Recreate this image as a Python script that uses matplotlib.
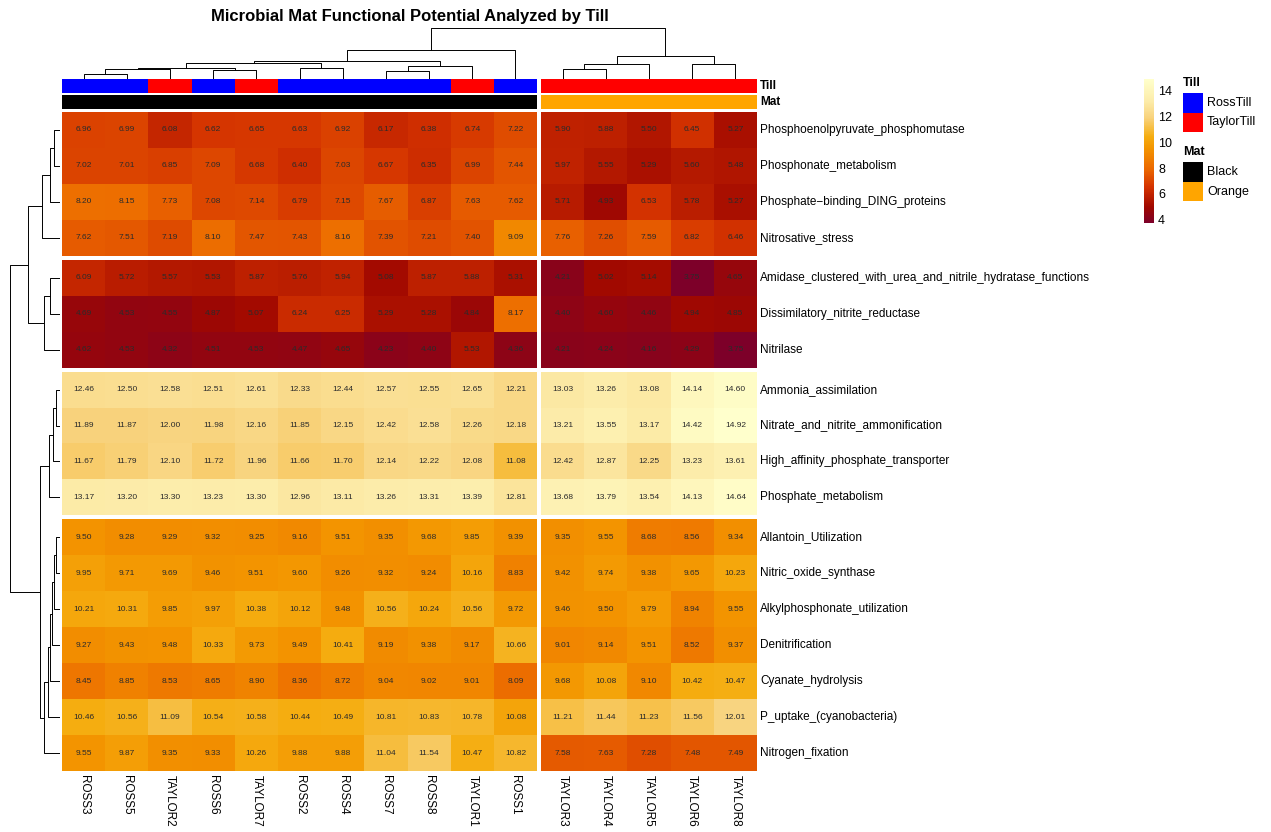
import numpy as np
import matplotlib
matplotlib.use("Agg")
import matplotlib.pyplot as plt
from matplotlib.colors import LinearSegmentedColormap, Normalize
from matplotlib.patches import Rectangle
from matplotlib.cm import ScalarMappable

plt.rcParams['font.family'] = ['Liberation Sans', 'DejaVu Sans']

# samples in clustered order
samples = ["ROSS3", "ROSS5", "TAYLOR2", "ROSS6", "TAYLOR7", "ROSS2", "ROSS4", "ROSS7",
           "ROSS8", "TAYLOR1", "ROSS1", "TAYLOR3", "TAYLOR4", "TAYLOR5", "TAYLOR6", "TAYLOR8"]
till = ["RossTill", "RossTill", "TaylorTill", "RossTill", "TaylorTill", "RossTill", "RossTill",
        "RossTill", "RossTill", "TaylorTill", "RossTill", "TaylorTill", "TaylorTill",
        "TaylorTill", "TaylorTill", "TaylorTill"]
mat = ["Black"] * 11 + ["Orange"] * 5

functions = ["Phosphoenolpyruvate_phosphomutase", "Phosphonate_metabolism",
             "Phosphate\u2212binding_DING_proteins", "Nitrosative_stress",
             "Amidase_clustered_with_urea_and_nitrile_hydratase_functions",
             "Dissimilatory_nitrite_reductase", "Nitrilase", "Ammonia_assimilation",
             "Nitrate_and_nitrite_ammonification", "High_affinity_phosphate_transporter",
             "Phosphate_metabolism", "Allantoin_Utilization", "Nitric_oxide_synthase",
             "Alkylphosphonate_utilization", "Denitrification", "Cyanate_hydrolysis",
             "P_uptake_(cyanobacteria)", "Nitrogen_fixation"]

values = np.array([
    [6.96, 6.99, 6.08, 6.62, 6.65, 6.63, 6.92, 6.17, 6.38, 6.74, 7.22, 5.90, 5.88, 5.50, 6.45, 5.27],
    [7.02, 7.01, 6.85, 7.09, 6.68, 6.40, 7.03, 6.67, 6.35, 6.99, 7.44, 5.97, 5.55, 5.29, 5.60, 5.48],
    [8.20, 8.15, 7.73, 7.08, 7.14, 6.79, 7.15, 7.67, 6.87, 7.63, 7.62, 5.71, 4.93, 6.53, 5.78, 5.27],
    [7.62, 7.51, 7.19, 8.10, 7.47, 7.43, 8.16, 7.39, 7.21, 7.40, 9.09, 7.76, 7.26, 7.59, 6.82, 6.46],
    [6.09, 5.72, 5.57, 5.53, 5.87, 5.76, 5.94, 5.08, 5.87, 5.88, 5.31, 4.21, 5.02, 5.14, 3.75, 4.65],
    [4.69, 4.53, 4.55, 4.87, 5.07, 6.24, 6.25, 5.29, 5.28, 4.84, 8.17, 4.40, 4.60, 4.46, 4.94, 4.85],
    [4.62, 4.53, 4.32, 4.51, 4.53, 4.47, 4.65, 4.23, 4.40, 5.53, 4.36, 4.21, 4.24, 4.16, 4.29, 3.75],
    [12.46, 12.50, 12.58, 12.51, 12.61, 12.33, 12.44, 12.57, 12.55, 12.65, 12.21, 13.03, 13.26, 13.08, 14.14, 14.60],
    [11.89, 11.87, 12.00, 11.98, 12.16, 11.85, 12.15, 12.42, 12.58, 12.26, 12.18, 13.21, 13.55, 13.17, 14.42, 14.92],
    [11.67, 11.79, 12.10, 11.72, 11.96, 11.66, 11.70, 12.14, 12.22, 12.08, 11.08, 12.42, 12.87, 12.25, 13.23, 13.61],
    [13.17, 13.20, 13.30, 13.23, 13.30, 12.96, 13.11, 13.26, 13.31, 13.39, 12.81, 13.68, 13.79, 13.54, 14.13, 14.64],
    [9.50, 9.28, 9.29, 9.32, 9.25, 9.16, 9.51, 9.35, 9.68, 9.85, 9.39, 9.35, 9.55, 8.68, 8.56, 9.34],
    [9.95, 9.71, 9.69, 9.46, 9.51, 9.60, 9.26, 9.32, 9.24, 10.16, 8.83, 9.42, 9.74, 9.38, 9.65, 10.23],
    [10.21, 10.31, 9.85, 9.97, 10.38, 10.12, 9.48, 10.56, 10.24, 10.56, 9.72, 9.46, 9.50, 9.79, 8.94, 9.55],
    [9.27, 9.43, 9.48, 10.33, 9.73, 9.49, 10.41, 9.19, 9.38, 9.17, 10.66, 9.01, 9.14, 9.51, 8.52, 9.37],
    [8.45, 8.85, 8.53, 8.65, 8.90, 8.36, 8.72, 9.04, 9.02, 9.01, 8.09, 9.68, 10.08, 9.10, 10.42, 10.47],
    [10.46, 10.56, 11.09, 10.54, 10.58, 10.44, 10.49, 10.81, 10.83, 10.78, 10.08, 11.21, 11.44, 11.23, 11.56, 12.01],
    [9.55, 9.87, 9.35, 9.33, 10.26, 9.88, 9.88, 11.04, 11.54, 10.47, 10.82, 7.58, 7.63, 7.28, 7.48, 7.49],
])

# merge steps (left, right, height); leaves are 0..n-1, new clusters get n, n+1, ...
col_linkage = [(0, 1, 5.3), (16, 2, 9.7), (3, 4, 9.0), (17, 18, 11.3), (5, 6, 10.7),
               (19, 20, 16.3), (7, 8, 8.3), (22, 9, 13.3), (21, 23, 17.7), (24, 10, 29.0),
               (11, 12, 9.7), (26, 13, 14.7), (14, 15, 14.7), (27, 28, 23.0), (25, 29, 51.3)]
row_linkage = [(0, 1, 6.0), (18, 2, 10.0), (19, 3, 18.0), (4, 5, 10.0), (21, 6, 16.0),
               (20, 22, 32.0), (7, 8, 4.0), (24, 9, 7.0), (25, 10, 11.0),
               (11, 12, 4.0), (27, 13, 6.0), (28, 14, 8.0), (29, 15, 10.0), (30, 16, 12.0),
               (31, 17, 16.0), (26, 32, 20.0), (23, 33, 50.0)]

col_gaps = [11]
row_gaps = [4, 7, 11]

till_colors = {"RossTill": "#0000FF", "TaylorTill": "#FF0000"}
mat_colors = {"Black": "#000000", "Orange": "#FFA500"}

heat = LinearSegmentedColormap.from_list("heat", [
    (0.00, "#7D0029"), (0.11, "#A00800"), (0.25, "#D43300"), (0.38, "#EC6A00"),
    (0.52, "#F39500"), (0.60, "#F5AD10"), (0.73, "#F8D27C"), (0.85, "#FCECAA"),
    (1.00, "#FFFFCC")])
norm = Normalize(values.min(), values.max())

W, H = 1271, 832
fig = plt.figure(figsize=(W / 100, H / 100), dpi=100)


def px(x0, y0, x1, y1):
    return [x0 / W, 1 - y1 / H, (x1 - x0) / W, (y1 - y0) / H]


nrow, ncol = values.shape
gx, gy = 4 / 43.2, 4 / 36.0
col_left = np.arange(ncol) + gx * np.array([sum(j >= g for g in col_gaps) for j in range(ncol)])
row_top = np.arange(nrow) + gy * np.array([sum(i >= g for g in row_gaps) for i in range(nrow)])
xmax = ncol + gx * len(col_gaps)
ymax = nrow + gy * len(row_gaps)

# heatmap body, one mesh per block between the gaps
ax = fig.add_axes(px(62, 112, 757, 771))
cb = [0] + col_gaps + [ncol]
rb = [0] + row_gaps + [nrow]
for r0, r1 in zip(rb[:-1], rb[1:]):
    for c0, c1 in zip(cb[:-1], cb[1:]):
        xe = col_left[c0] + np.arange(c1 - c0 + 1)
        ye = row_top[r0] + np.arange(r1 - r0 + 1)
        ax.pcolormesh(xe, ye, values[r0:r1, c0:c1], cmap=heat, norm=norm,
                      shading="flat", edgecolors="none")
for i in range(nrow):
    for j in range(ncol):
        ax.text(col_left[j] + 0.5, row_top[i] + 0.5, f"{values[i, j]:.2f}",
                ha="center", va="center", fontsize=6, color="#2b2b2b")
    ax.text(xmax + 0.07, row_top[i] + 0.5, functions[i], ha="left", va="center",
            fontsize=8.5, clip_on=False)
for j in range(ncol):
    ax.text(col_left[j] + 0.5, ymax + 0.12, samples[j], ha="center", va="top",
            rotation=270, fontsize=8.5, clip_on=False)
ax.set_xlim(0, xmax)
ax.set_ylim(ymax, 0)
ax.axis("off")


def dendro(linkage, leaf_pos):
    pos = list(leaf_pos)
    height = [0.0] * len(leaf_pos)
    segs = []
    for a, b, h in linkage:
        segs.append(([pos[a], pos[a], pos[b], pos[b]], [height[a], h, h, height[b]]))
        pos.append((pos[a] + pos[b]) / 2)
        height.append(h)
    return segs


# column tree
axc = fig.add_axes(px(62, 27.7, 757, 79))
for xs, hs in dendro(col_linkage, col_left + 0.5):
    axc.plot(xs, hs, color="black", lw=0.7, solid_capstyle="butt")
axc.set_xlim(0, xmax)
axc.set_ylim(0, max(h for _, _, h in col_linkage))
axc.axis("off")

# row tree
axr = fig.add_axes(px(10, 112, 60, 771))
for ys, hs in dendro(row_linkage, row_top + 0.5):
    axr.plot(hs, ys, color="black", lw=0.7, solid_capstyle="butt")
axr.set_ylim(ymax, 0)
axr.set_xlim(max(h for _, _, h in row_linkage), 0)
axr.axis("off")

# annotation tracks
for (y0, y1), labels, cmap_, name in [((79, 93), till, till_colors, "Till"),
                                      ((95, 109), mat, mat_colors, "Mat")]:
    axa = fig.add_axes(px(62, y0, 757, y1))
    axa.bar(col_left + 0.5, 1, width=1, color=[cmap_[v] for v in labels])
    axa.set_xlim(0, xmax)
    axa.set_ylim(0, 1)
    axa.axis("off")
    fig.text(760 / W, 1 - (y0 + y1) / 2 / H, name, ha="left", va="center",
             fontsize=8.5, fontweight="bold")

fig.text(409.5 / W, 1 - 16 / H, "Microbial Mat Functional Potential Analyzed by Till",
         ha="center", va="center", fontsize=12, fontweight="bold")

# colour key
cax = fig.add_axes(px(1144, 79, 1154, 223))
cbar = fig.colorbar(ScalarMappable(norm=norm, cmap=heat), cax=cax, ticks=[4, 6, 8, 10, 12, 14])
cbar.outline.set_visible(False)
cax.tick_params(length=0, labelsize=9, pad=3)

# annotation legend
leg = fig.add_axes(px(1175, 70, 1271, 210))
leg.set_xlim(1175, 1271)
leg.set_ylim(210, 70)
leg.axis("off")
y = 83
for name, cmap_ in [("Till", till_colors), ("Mat", mat_colors)]:
    leg.text(1183, y, name, ha="left", va="center", fontsize=9, fontweight="bold")
    top = y + 10
    for lab, colr in cmap_.items():
        leg.add_patch(Rectangle((1183, top), 20, 19.5, facecolor=colr, edgecolor="none"))
        leg.text(1207, top + 10, lab, ha="left", va="center", fontsize=9)
        top += 19.5
    y = 152

fig.savefig("out.png", dpi=100)
